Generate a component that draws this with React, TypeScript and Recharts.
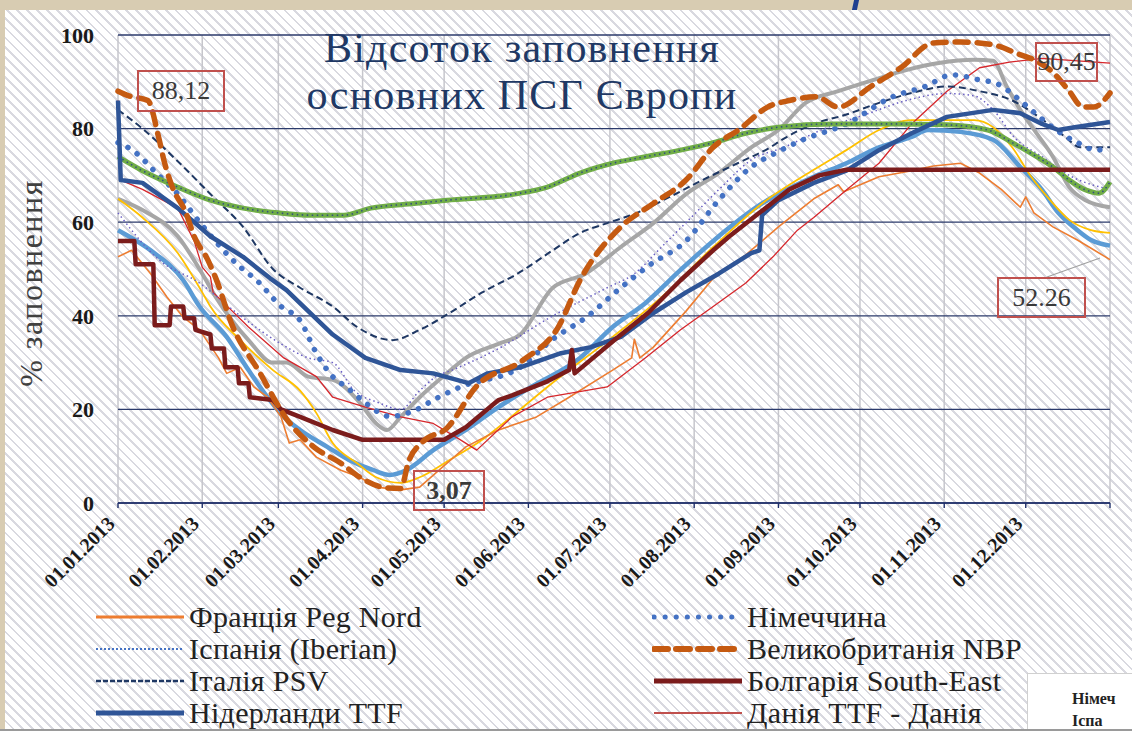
import React from 'react';
import { LineChart, Line, XAxis, YAxis, CartesianGrid } from 'recharts';

type Pt = [number, number];

// day of year 2013 -> % filled
const monthTicks = [0, 31, 59, 90, 120, 151, 181, 212, 243, 273, 304, 334, 365];
const monthLabels = [
  '01.01.2013', '01.02.2013', '01.03.2013', '01.04.2013', '01.05.2013', '01.06.2013',
  '01.07.2013', '01.08.2013', '01.09.2013', '01.10.2013', '01.11.2013', '01.12.2013', '',
];
const yTicks = [0, 20, 40, 60, 80, 100];

const france: Pt[] = [[0,52.6],[5,54],[12,49],[18,44],[24,39.7],[30,37],[37,31],[40,27.7],[45,29],[50,24.8],[55,22.6],[60,18.4],[63,12.8],[67,13.5],[73,9.8],[82,7],[89,5.5],[95,3.4],[104,2.8],[111,3.4],[120,8],[128,12],[140,15.6],[154,18.4],[166,22.6],[182,28.4],[189,31],[190,35],[192,31],[197,33.3],[209,41],[219,48],[231,53],[243,59],[256,65],[265,68],[267,66.5],[280,69.7],[292,71],[300,72],[310,72.6],[317,70.5],[325,67],[332,63.2],[334,65.4],[337,62],[344,59],[353,56.2],[365,52]];
const spain: Pt[] = [[0,62],[15,52],[30,47],[45,40],[60,34],[70,31],[79,30],[87,24],[96,21.4],[104,20],[111,24],[117,27],[123,28.4],[140,33],[160,40],[180,46],[190,49],[200,54.7],[210,60.5],[222,67.5],[233,73.3],[245,76],[260,80],[275,83],[290,86],[305,87.5],[315,87],[322,84],[330,78],[340,74],[350,70],[365,67]];
const italy: Pt[] = [[0,84],[9,80],[22,73],[34,66],[46,59],[57,50],[67,46],[79,42],[88,37.6],[101,34.8],[111,37],[122,40.6],[134,45],[147,49],[160,54],[170,57.7],[180,59.8],[191,62],[203,65.4],[215,69],[228,72.6],[240,76],[244,77.5],[256,81],[268,83],[280,85.5],[292,87.6],[305,89],[317,88],[329,86],[340,82],[349,78],[354,76],[365,76]];
const netherlands: Pt[] = [[0,86],[1,69],[9,68.4],[22,63],[34,57],[46,52.6],[56,48],[62,45.5],[70,41],[79,36],[91,31],[104,28.4],[116,27.7],[129,25.6],[136,27.7],[148,29],[163,32],[174,33.3],[185,35.5],[197,40.6],[209,45],[221,49],[233,53.4],[236,54],[237,61.5],[243,64.7],[256,68.4],[268,71],[280,75.4],[292,79],[305,82.5],[322,84],[332,83.3],[340,81],[346,79.7],[352,80.3],[365,81.4]];
const germany: Pt[] = [[0,77],[5,75.5],[15,70],[22,66],[30,60],[45,50.4],[51,47.6],[60,42],[67,39],[73,32],[79,27],[84,24.8],[91,21.4],[100,18.5],[110,20],[116,22],[126,24.8],[148,29],[160,35],[173,40],[184,45.5],[196,51],[209,56],[221,64.7],[233,71.8],[242,74.8],[252,77.6],[268,81],[285,86.8],[297,89],[307,91.5],[317,90.4],[323,89.7],[332,86],[336,84],[347,79],[353,77],[360,75.4],[365,76]];
const britain: Pt[] = [[0,88],[4,87],[11,86],[15,78],[17,73],[20,67.5],[25,62],[28,57],[33,52],[36,48],[42,38],[52,28],[62,18],[72,12],[82,8.5],[89,5.5],[99,3.2],[104,3.1],[107,9],[112,13],[121,16],[132,25],[149,30.5],[162,37.6],[170,47.6],[185,59],[197,64],[209,69],[219,76],[229,80],[239,84.6],[247,86],[257,86.8],[265,84.6],[277,89],[288,93],[300,98.3],[310,98.5],[322,97.9],[331,96],[337,94.7],[344,92],[350,88],[355,84.6],[359,84.6],[365,87.6]];
const bulgaria: Pt[] = [[0,56],[6,56],[6.5,51],[13,51],[13.5,38],[19,38],[19.5,42],[24,42],[24.5,39.5],[28,39.5],[28.5,37],[34,36],[34.5,33],[39,33],[39.5,29],[44,29],[44.5,25.6],[48,25.6],[48.5,22.6],[57,22],[60,20],[67,18.4],[79,15.6],[90,13.5],[120,13.5],[128,16.2],[140,22],[145,23],[158,26],[166,28.4],[167,32.7],[168,27.7],[183,35],[195,40.6],[207,47.6],[219,54],[225,57],[236,62],[247,67],[258,70],[268,71.2],[365,71.2]];
const denmark: Pt[] = [[0,86],[1,69],[9,67],[22,63],[28,56],[31,50.4],[34,48.3],[35,45],[48,37.6],[61,31],[73,27],[79,22.6],[91,20.5],[104,18.4],[116,17],[126,13.5],[132,11.3],[145,18.4],[158,22.6],[180,24.8],[194,31],[207,37],[219,42],[231,47],[241,52.6],[250,58.3],[256,61],[268,66.9],[280,72.6],[292,81],[305,88],[317,93],[328,94.2],[340,95],[365,94]];
const greySeries: Pt[] = [[0,65],[9,62.6],[22,57],[31,49],[36,44],[48,34.8],[57,30],[62,30],[70,27],[79,26.3],[89,21.4],[95,17],[99,15.6],[104,18.4],[111,22.6],[121,27.7],[128,31],[140,34],[148,36],[160,46],[172,49],[185,54.7],[197,59.8],[209,66],[221,70.5],[233,76],[243,79.7],[253,85.5],[265,88],[278,90.4],[290,92.5],[302,94],[315,94.7],[322,94.5],[327,89],[332,84],[338,79],[344,74],[350,67.5],[356,64.7],[365,63.2]];
const greenSeries: Pt[] = [[0,74],[9,71],[22,67.5],[34,64.7],[46,63],[59,62],[71,61.5],[83,61.5],[93,63],[109,64],[121,64.7],[146,66],[158,67.5],[170,70.5],[182,72.6],[194,74],[207,75.4],[219,77],[231,79],[243,80.3],[263,81],[285,81],[305,80.8],[320,79.7],[329,77],[338,74],[344,71.8],[350,69],[356,66.9],[361,66.2],[365,68.6]];
const lightBlueSeries: Pt[] = [[0,58.3],[12,54],[24,47.6],[30,42],[40,35.5],[48,28.4],[55,22.6],[61,18.4],[67,15.6],[77,12],[85,9.2],[94,7],[100,6],[106,7],[116,11.3],[128,15.6],[140,20.5],[152,24.8],[170,31],[182,37.6],[194,42.7],[207,49.8],[219,56],[237,64],[256,69.7],[268,72.6],[280,76],[292,78.2],[298,79.7],[310,79.3],[322,77.6],[332,71.8],[340,66.9],[346,62],[353,58.3],[358,56.2],[365,55]];
const yellowSeries: Pt[] = [[0,65],[9,61],[22,53.4],[31,45],[34,42],[45,34.8],[57,28.4],[67,24],[73,19.2],[79,12.8],[88,8.5],[95,5.5],[104,4.3],[111,5.5],[122,9.2],[134,13.5],[140,16.2],[158,24.8],[182,35.5],[200,44],[219,54.7],[237,64],[256,71.2],[268,75.4],[280,79.7],[292,81.8],[315,81.8],[322,80.3],[329,76],[336,69.7],[343,64.7],[350,60.5],[358,58.3],[365,57.7]];

const serif = "'Liberation Serif', 'DejaVu Serif', 'Liberation Sans', serif";

const rows = (pts: Pt[]) => pts.map(([day, v]) => ({ day, v }));

// drawing order = bottom to top
const series = [
  { key: 'grey', pts: greySeries, stroke: '#a6a6a6', width: 4, type: 'monotone' },
  { key: 'lightblue', pts: lightBlueSeries, stroke: '#5b9bd5', width: 4.5, type: 'monotone' },
  { key: 'yellow', pts: yellowSeries, stroke: '#ffc000', width: 1.8, type: 'monotone' },
  { key: 'france', pts: france, stroke: '#ed7d31', width: 1.6, type: 'linear' },
  { key: 'denmark', pts: denmark, stroke: '#d6262b', width: 1.3, type: 'linear' },
  { key: 'spain', pts: spain, stroke: '#6a5fc4', width: 1.5, dash: '1.5 3', type: 'monotone' },
  { key: 'italy', pts: italy, stroke: '#1f3864', width: 2, dash: '7 4', type: 'monotone' },
  { key: 'germany', pts: germany, stroke: '#4472c4', width: 5.5, dash: '0.1 11', cap: 'round', type: 'monotone' },
  { key: 'green', pts: greenSeries, stroke: '#70ad47', width: 5, type: 'monotone' },
  { key: 'greenDots', pts: greenSeries, stroke: '#34507e', width: 1.6, dash: '1.5 3.5', type: 'monotone' },
  { key: 'netherlands', pts: netherlands, stroke: '#2f5597', width: 4.5, type: 'linear' },
  { key: 'bulgaria', pts: bulgaria, stroke: '#7b1c1c', width: 4.5, type: 'linear' },
  { key: 'britain', pts: britain, stroke: '#c55a11', width: 5.5, dash: '13 9', cap: 'round', type: 'monotone' },
];

const legendLeft = [
  { name: 'Франція Peg Nord', stroke: '#ed7d31', width: 3, dash: undefined as string | undefined },
  { name: 'Іспанія (Iberian)', stroke: '#4472c4', width: 2, dash: '2 2' },
  { name: 'Італія PSV', stroke: '#1f3864', width: 2.5, dash: '5 2' },
  { name: 'Нідерланди TTF', stroke: '#2f5597', width: 5, dash: undefined },
];
const legendRight = [
  { name: 'Німеччина', stroke: '#4472c4', width: 5, dash: '0.1 11', cap: 'round' },
  { name: 'Великобританія NBP', stroke: '#c55a11', width: 6, dash: '14 8', cap: 'round' },
  { name: 'Болгарія South-East', stroke: '#7b1c1c', width: 5, dash: undefined },
  { name: 'Данія TTF - Данія', stroke: '#c0504d', width: 2, dash: undefined },
];

const DateTick = (props: any) => {
  const { x, y, payload } = props;
  const i = monthTicks.indexOf(payload.value);
  const label = i >= 0 ? monthLabels[i] : '';
  const tx = x - 2;
  const ty = y + 15;
  return (
    <text x={tx} y={ty} textAnchor="end" transform={`rotate(-45 ${tx} ${ty})`}
      fontFamily={serif} fontWeight="bold" fontSize={20} fill="#1a1a1a">
      {label}
    </text>
  );
};

const hatch = 'repeating-linear-gradient(45deg, #ffffff 0px, #ffffff 5px, #d9d9e0 5px, #d9d9e0 7px)';

const boxStyle = (left: number, top: number, w: number, h: number, bold = false): React.CSSProperties => ({
  position: 'absolute', left, top, width: w, height: h, boxSizing: 'border-box',
  border: '2px solid #c0504d', fontFamily: serif, fontSize: 26, color: '#3a3a3a',
  fontWeight: bold ? 'bold' : 'normal', display: 'flex', alignItems: 'center', justifyContent: 'center',
});

const LegendRow = ({ item, left, top }: { item: any; left: number; top: number }) => (
  <div style={{ position: 'absolute', left, top, height: 31, display: 'flex', alignItems: 'center' }}>
    <svg width={92} height={20}>
      <line x1={2} y1={10} x2={90} y2={10} stroke={item.stroke} strokeWidth={item.width}
        strokeDasharray={item.dash} strokeLinecap={item.cap || 'butt'} />
    </svg>
    <span style={{ fontFamily: serif, fontSize: 30, lineHeight: '30px', color: '#222', marginLeft: 3, whiteSpace: 'nowrap', letterSpacing: 0.3 }}>{item.name}</span>
  </div>
);

export default function App() {
  return (
    <div style={{ position: 'absolute', left: 0, top: 0, width: 1132, height: 731, overflow: 'hidden', background: '#d8ccb2' }}>
      <div style={{ position: 'absolute', left: 5, top: 10, right: 0, bottom: 2, background: hatch }} />
      <div style={{ position: 'absolute', left: 853, top: 0, width: 5, height: 10, background: '#1f3f8f', transform: 'skewX(-12deg)' }} />
      <div style={{ position: 'absolute', left: 0, top: 0 }}>
        <LineChart width={1132} height={731} margin={{ top: 35, right: 22, bottom: 198, left: 58 }}>
          <CartesianGrid horizontal={false} stroke="#c6c6cc" strokeWidth={1.5} />
          <CartesianGrid vertical={false} stroke="#2b3a6b" strokeWidth={1.3} />
          <XAxis type="number" dataKey="day" domain={[0, 365]} ticks={monthTicks} interval={0}
            height={30} tick={<DateTick />} tickSize={5} stroke="#1f2f6b" strokeWidth={1.6}
            tickLine={{ stroke: '#1f2f6b', strokeWidth: 1.4 }} allowDuplicatedCategory={false} />
          <YAxis type="number" domain={[0, 100]} ticks={yTicks} width={60} axisLine={false}
            tickLine={false} tickSize={0} tickMargin={24}
            tick={{ fontFamily: serif, fontWeight: 'bold', fontSize: 22, fill: '#1a1a1a' }} />
          {series.map((s) => (
            <Line key={s.key} data={rows(s.pts)} dataKey="v" type={s.type as any} stroke={s.stroke}
              strokeWidth={s.width} strokeDasharray={s.dash} strokeLinecap={(s.cap as any) || 'butt'}
              strokeLinejoin="round" dot={false} activeDot={false} isAnimationActive={false} />
          ))}
        </LineChart>
      </div>

      <div style={{ position: 'absolute', left: 172, top: 25, width: 700, textAlign: 'center', fontFamily: serif, fontSize: 42, lineHeight: '47px', letterSpacing: 1.2, color: '#203864' }}>
        Відсоток заповнення<br />основних ПСГ Європи
      </div>
      <div style={{ position: 'absolute', left: 31, top: 283, transform: 'translate(-50%, -50%) rotate(-90deg)', fontFamily: serif, fontSize: 32, letterSpacing: 1.5, color: '#404040', whiteSpace: 'nowrap' }}>
        % заповнення
      </div>

      <div style={boxStyle(137, 70, 88, 42)}>88,12</div>
      <div style={boxStyle(413, 470, 72, 41, true)}>3,07</div>
      <div style={boxStyle(1035, 42, 63, 40)}>90,45</div>
      <svg style={{ position: 'absolute', left: 0, top: 0 }} width={1132} height={731}>
        <line x1={1047} y1={277} x2={1100} y2={258} stroke="#a0a0a0" strokeWidth={1.2} />
      </svg>
      <div style={boxStyle(997, 277, 89, 41)}>52.26</div>

      {legendLeft.map((it, i) => <LegendRow key={it.name} item={it} left={94} top={601 + i * 32} />)}
      {legendRight.map((it, i) => <LegendRow key={it.name} item={it} left={652} top={601 + i * 32} />)}

      <div style={{ position: 'absolute', left: 1027, top: 673, width: 120, height: 70, background: '#ffffff', borderLeft: '1px solid #d0d0d0', borderTop: '1px solid #d0d0d0' }}>
        <div style={{ position: 'absolute', left: 44, top: 14, fontFamily: serif, fontWeight: 'bold', fontSize: 16, color: '#222', whiteSpace: 'nowrap', lineHeight: '22px' }}>
          Німеч<br />Іспа
        </div>
      </div>
      <div style={{ position: 'absolute', left: 0, bottom: 0, width: 1132, height: 2, background: '#9a9a9a' }} />
    </div>
  );
}
